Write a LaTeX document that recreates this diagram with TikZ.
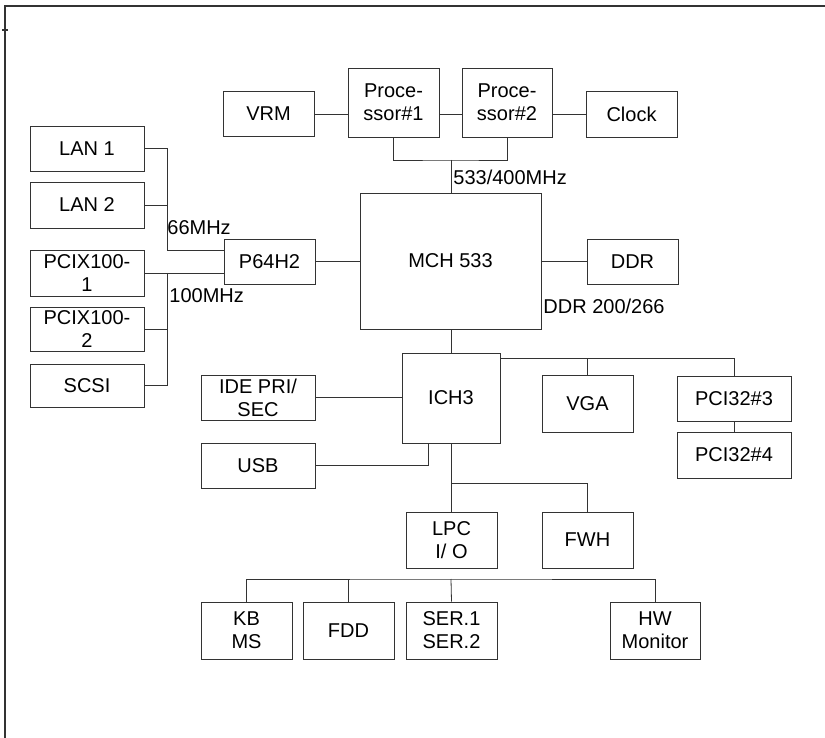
\documentclass[tikz,border=0pt]{standalone}
\usepackage{fontspec}
\setmainfont{Liberation Sans}
\usetikzlibrary{positioning}
\tikzset{blk/.style = {draw, rectangle, inner sep = 0, align = center, minimum width = 91, minimum height = 45}}
\tikzset{wideblk/.style = {blk, minimum width = 114}}
\tikzset{buslbl/.style = {anchor = west, inner sep = 0}}
\tikzset{
  every picture/.style={
    every path/.style={line width=0.8pt},
    every node/.style={font=\fontsize{20}{23}\selectfont, text=black},
  }
}
\begin{document}
\begin{tikzpicture}[x=1pt, y=-1pt, color=black!80]
        \useasboundingbox (0,0) rectangle (825,738);
        \draw[line width=1.2pt] (5,738) -- (5,6) -- (825,6);
        \draw[line width=1.2pt] (2,30) -- (8,30);
        \node[blk] (vrm) at (268.5,114) {VRM};
        \node[blk, minimum height=69] (cpu1) at (393.5,102.5) {Proce-\\ssor\#1};
        \node[blk, minimum height=69, minimum width=90] (cpu2) at (507,102.5) {Proce-\\ssor\#2};
        \node[blk, minimum height=46] (clk) at (631.5,114) {Clock};
        \node[blk, minimum width=181, minimum height=136] (mch) at (450.5,261) {MCH 533};
        \node[blk] (ddr) at (632.5,261.5) {DDR};
        \node[blk] (p64) at (269.5,261.5) {P64H2};
        \node[wideblk] (lan1) at (87,148.5) {LAN 1};
        \node[wideblk, minimum height=46] (lan2) at (87,205) {LAN 2};
        \node[wideblk, minimum height=46] (pcix1) at (87,273) {PCIX100-\\1};
        \node[wideblk, minimum height=44] (pcix2) at (87,329) {PCIX100-\\2};
        \node[wideblk, minimum height=43] (scsi) at (87,385.5) {SCSI};
        \node[blk, minimum width=98, minimum height=90] (ich) at (451,398) {ICH3};
        \node[wideblk] (ide) at (258,397.5) {IDE PRI/\\SEC};
        \node[wideblk] (usb) at (258,465.5) {USB};
        \node[blk, minimum height=57] (vga) at (587.5,403.5) {VGA};
        \node[wideblk] (pci3) at (734,398.5) {PCI32\#3};
        \node[wideblk, minimum height=46] (pci4) at (734,455) {PCI32\#4};
        \node[blk, minimum height=56] (lpc) at (451.5,540) {LPC\\I/ O};
        \node[blk, minimum height=56] (fwh) at (587.5,540) {FWH};
        \node[blk, minimum height=57] (kb) at (246.5,630.5) {KB\\MS};
        \node[blk, minimum height=57] (fdd) at (348.5,630.5) {FDD};
        \node[blk, minimum height=57] (ser) at (451.5,630.5) {SER.1\\SER.2};
        \node[blk, minimum height=57, minimum width=90] (hw) at (655,630.5) {HW\\Monitor};
        \coordinate (fsb) at (451,160);
        \coordinate (hub66) at (167,250);
        \coordinate (hub100) at (167,273);
        \coordinate (pcibus) at (500,358);
        \coordinate (lpcbus) at (451,483);
        \coordinate (iobus) at (451,579);
        \node[buslbl] (fsblbl) at (453,177) {533/400MHz};
        \node[buslbl] (ddrlbl) at (543,306) {DDR 200/266};
        \node[buslbl] (lbl66) at (167,228) {66MHz};
        \node[buslbl] (lbl100) at (169,296) {100MHz};
        \draw (vrm.east) -- (vrm.east -| cpu1.west);
        \draw (cpu1.east |- vrm) -- (cpu2.west |- vrm);
        \draw (cpu2.east |- clk) -- (clk.west);
        \draw (cpu1.south) |- (fsb) -| (cpu2.south);
        \draw (fsb) -- (fsb |- mch.north);
        \draw (mch.east |- ddr) -- (ddr.west);
        \draw (p64.east) -- (p64.east -| mch.west);
        \draw (lan1.east) -| (hub66) -- (hub66 -| p64.west);
        \draw (lan2.east) -- (lan2.east -| hub66);
        \draw (pcix1.east) -- (pcix1.east -| p64.west);
        \draw (hub100) |- (scsi.east);
        \draw (pcix2.east) -- (pcix2.east -| hub100);
        \draw (ich.north |- mch.south) -- (ich.north);
        \draw (ide.east) -- (ide.east -| ich.west);
        \draw (usb.east) -| ([xshift=-23pt]ich.south);
        \draw (pcibus) -| (pci3.north);
        \draw (vga.north) -- (vga.north |- pcibus);
        \draw (pci3.south) -- (pci4.north);
        \draw (ich.south) -- (ich.south |- lpc.north);
        \draw (lpcbus) -| (fwh.north);
        \draw (kb.north) |- (iobus) -| (hw.north);
        \draw (fdd.north) -- (fdd.north |- iobus);
        \draw (ser.north) -- (iobus);
    \end{tikzpicture}
\end{document}
